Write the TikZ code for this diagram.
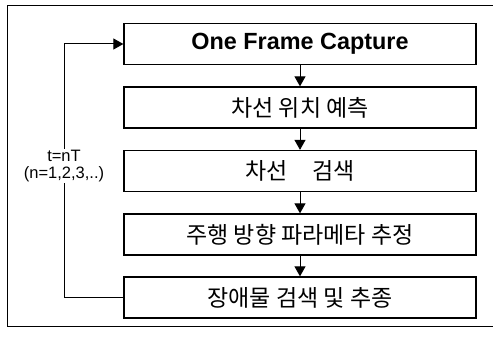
\documentclass[tikz,border=0pt]{standalone}
\usepackage{fontspec}
\setmainfont{Liberation Sans}
\newfontfamily\kr{Noto Sans CJK KR}
\usetikzlibrary{arrows.meta}
\begin{document}
\begin{tikzpicture}[x=1pt,y=-1pt,
  stepbox/.style={draw,line width=1.3pt,minimum width=352pt,minimum height=41pt,inner sep=0pt,anchor=center},
  krtext/.style={font=\kr\fontsize{23}{26}\selectfont},
  flow/.style={line width=1pt,-{Triangle[width=11pt,length=10pt]}},
  fb/.style={line width=1pt}]
\useasboundingbox (0,0) rectangle (493,337);
\draw[line width=1pt] (495,6) -- (7,6) -- (7,326) -- (495,326);
\node[stepbox,font=\fontsize{23.4}{26}\selectfont\bfseries] (b1) at (300,44) {One Frame Capture};
\node[stepbox,krtext] (b2) at (300,107.5) {차선 위치 예측};
\node[stepbox,krtext] (b3) at (300,171) {차선\hspace{1.1em}검색};
\node[stepbox,krtext] (b4) at (300,234.5) {주행 방향 파라메타 추정};
\node[stepbox,krtext] (b5) at (300,297.5) {장애물 검색 및 추종};
\draw[flow] (b1) -- (b2);
\draw[flow] (b2) -- (b3);
\draw[flow] (b3) -- (b4);
\draw[flow] (b4) -- (b5);
\node[align=center,inner sep=1pt,font=\fontsize{16.5}{17.5}\selectfont] (lab) at (64,166) {t=nT\\(n=1,2,3,..)};
\draw[fb] (b5.west) -| (lab.south);
\draw[flow] (lab.north) |- (b1.west);
\end{tikzpicture}
\end{document}
